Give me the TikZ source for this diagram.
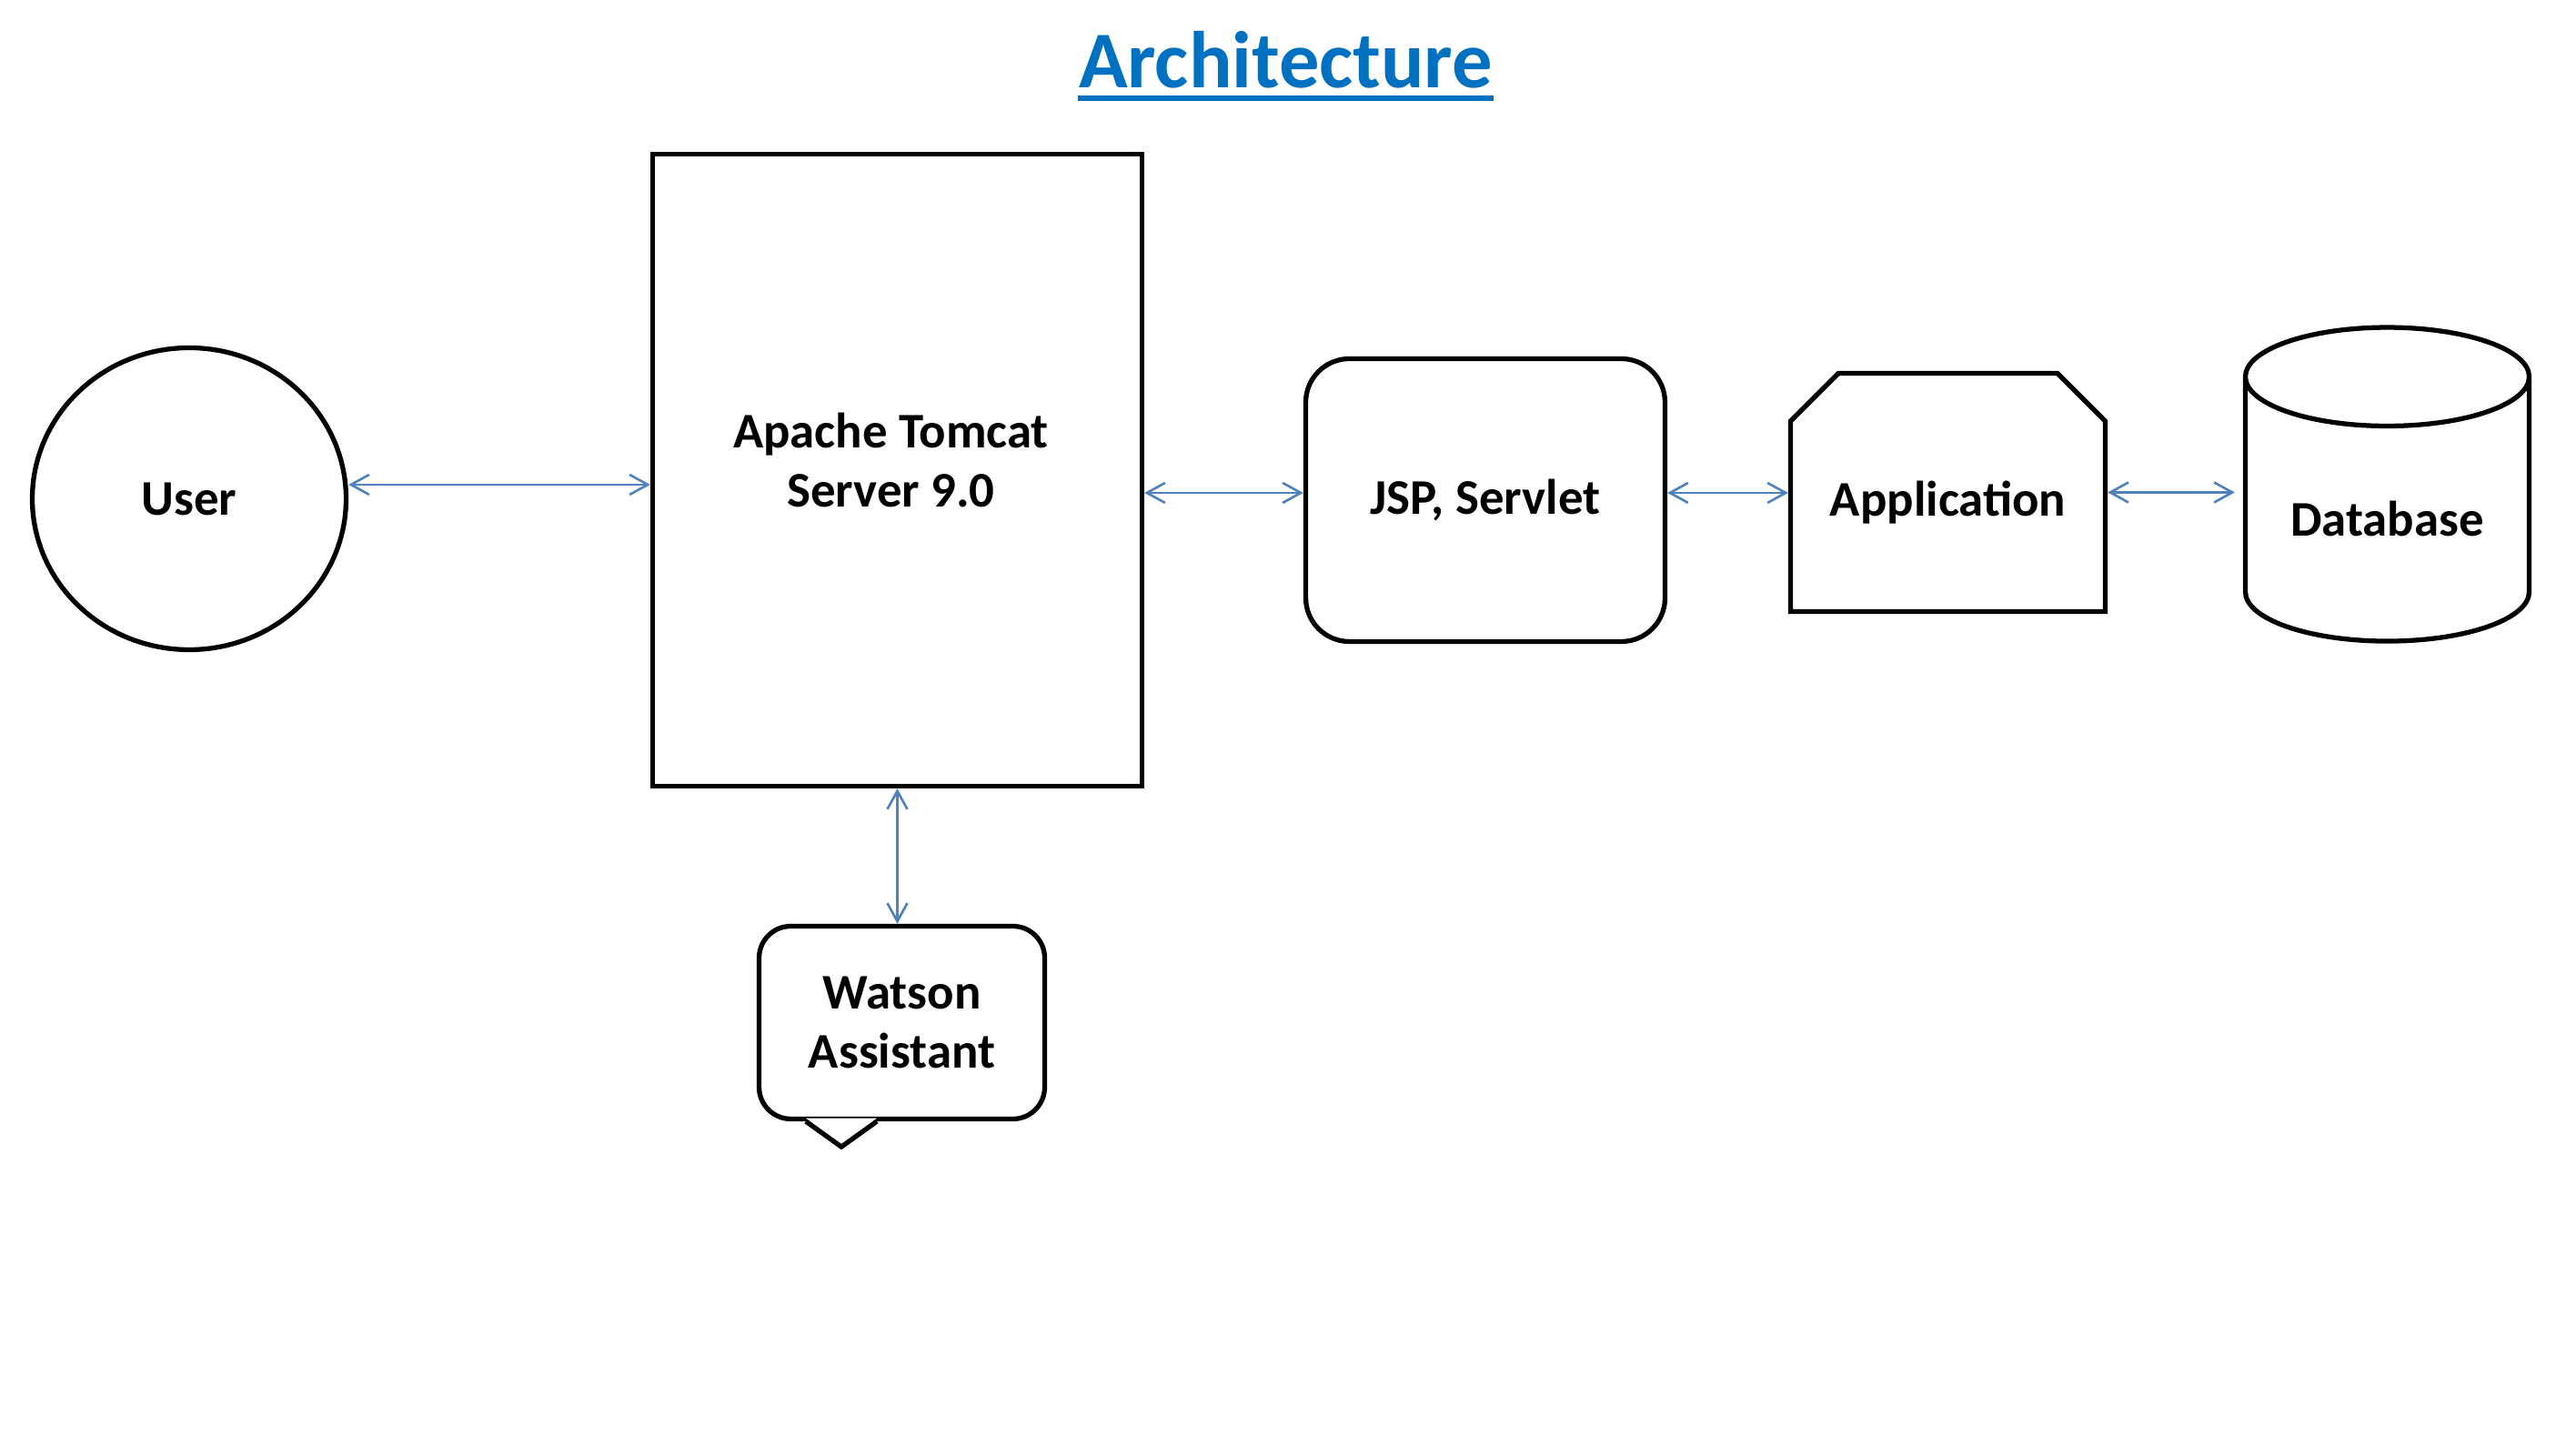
\documentclass[tikz,border=0pt]{standalone}
\usepackage{fontspec}
\setmainfont{Carlito}
\usetikzlibrary{shapes.geometric, shapes.misc, positioning, arrows.meta}
\definecolor{titleblue}{RGB}{0,112,192}
\definecolor{linkblue}{RGB}{79,129,189}
\tikzset{
	every node/.style={font=\bfseries\fontsize{15.6}{18.4}\selectfont, align=center}, % bold labels for every part
	block/.style={draw, line width=1.5pt, fill=white, inner sep=0pt}, % outline of each part
	link/.style={{Straight Barb[length=2mm,width=2.2mm]}-{Straight Barb[length=2mm,width=2.2mm]}, draw=linkblue, line width=0.75pt}, % two-way connectors
	node distance=6cm, % default distance, changed per node below
}
\begin{document}
\begin{tikzpicture}
			\useasboundingbox (0,0) rectangle (28.32,16);
			\node[font=\bfseries\fontsize{25.2}{30}\selectfont, text=titleblue, inner sep=0pt, anchor=base] (title) at (14.135,15.03) {Architecture};
			\draw[titleblue, line width=1.7pt] ([yshift=-1.1mm]title.base west) -- ([yshift=-1.1mm]title.base east);

			\node[block, ellipse, minimum width=3.45cm, minimum height=3.32cm] (user) at (2.08,10.515) {User};
			\node[block, minimum width=5.38cm, minimum height=6.95cm, label={[xshift=-0.7mm, yshift=1.1mm]center:Apache Tomcat\\Server 9.0}] (tomcat) [right of=user, node distance=7.785cm, yshift=3.15mm] {};
			\node[block, rounded corners=4.8mm, minimum width=3.95cm, minimum height=3.11cm] (jsp) [right of=tomcat, node distance=6.465cm, yshift=-3.3mm] {JSP, Servlet};
			\node[block, chamfered rectangle, chamfered rectangle corners={north west, north east}, chamfered rectangle xsep=2.9mm, chamfered rectangle ysep=2.9mm, minimum width=3.46cm, minimum height=2.62cm, label={[yshift=-1.1mm]center:Application}] (app) [right of=jsp, node distance=5.085cm, yshift=0.85mm] {\phantom{Application}};
			\node[block, cylinder, shape border rotate=90, aspect=0.51, minimum width=3.12cm, minimum height=3.45cm, label={[yshift=-0.9mm]center:Database}] (db) [right of=app, node distance=4.83cm, yshift=-1.95mm] {\phantom{Database}};
			\node[block, rounded corners=3.5mm, minimum width=3.14cm, minimum height=2.12cm] (watson) [below of=tomcat, node distance=6.075cm, xshift=0.5mm] {Watson\\Assistant};
			% pointer of the speech bubble
			\fill[white] ([xshift=-10.55mm,yshift=1pt]watson.south) -- ([xshift=-6.65mm,yshift=-2.8mm]watson.south) -- ([xshift=-2.75mm,yshift=1pt]watson.south) -- cycle;
			\draw[line width=1.5pt] ([xshift=-10.55mm]watson.south) -- ([xshift=-6.65mm,yshift=-2.8mm]watson.south) -- ([xshift=-2.75mm]watson.south);

			\draw[link] ([yshift=1.55mm]user.east) -- ([yshift=1.55mm]user.east -| tomcat.west);
			\draw[link] ([yshift=0.8mm]jsp.west -| tomcat.east) -- ([yshift=0.8mm]jsp.west);
			\draw[link] ([yshift=0.8mm]jsp.east) -- ([yshift=0.8mm]jsp.east -| app.west);
			\draw[link, shorten >=0.9mm] (app.east) -- (app.east -| db.west);
			\draw[link] (tomcat.south) -- (tomcat.south |- watson.north);
		\end{tikzpicture}
\end{document}
